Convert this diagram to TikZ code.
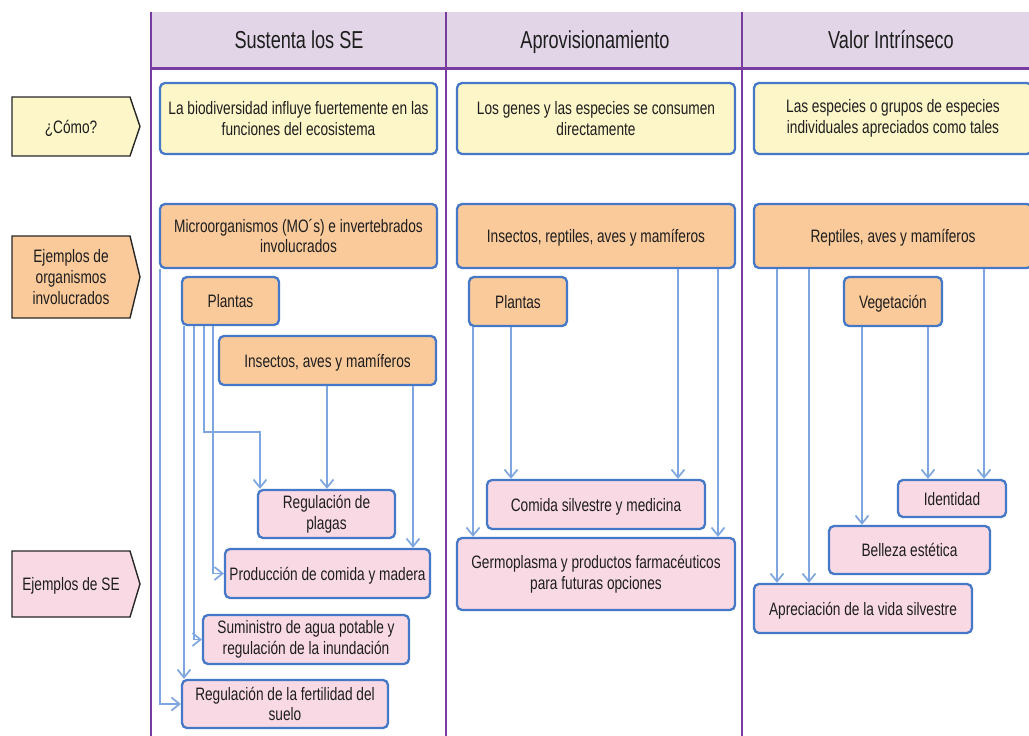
\documentclass[tikz,border=0pt]{standalone}
\usepackage{fontspec}
\newfontfamily\nar{Liberation Sans}[FakeStretch=0.76]
\newfontfamily\hnar{Liberation Sans}[FakeStretch=0.74]
\usetikzlibrary{arrows.meta}
\definecolor{purp}{RGB}{120,60,160}
\definecolor{hdrfill}{RGB}{225,213,231}
\definecolor{cyel}{RGB}{252,246,200}
\definecolor{corg}{RGB}{250,202,155}
\definecolor{cpnk}{RGB}{249,218,228}
\definecolor{bbord}{RGB}{70,120,200}
\definecolor{carr}{RGB}{126,166,224}
\definecolor{lblline}{RGB}{40,40,40}
\definecolor{txt}{RGB}{30,30,30}
\begin{document}
\begin{tikzpicture}[x=1pt,y=-1pt,
  box/.style={draw=bbord, line width=2.3pt, rounded corners=5pt, align=center, inner sep=0pt,
    text=txt, font=\nar\fontsize{18}{20.7}\selectfont},
  one/.style={text height=13pt, text depth=0pt},
  yel/.style={box, fill=cyel},
  org/.style={box, fill=corg},
  pnk/.style={box, fill=cpnk},
  hdr/.style={text=txt, anchor=base, inner sep=0pt, font=\hnar\fontsize{24.5}{28}\selectfont},
  lblshape/.style={draw=lblline, line width=1.4pt},
  lbltext/.style={align=center, text=txt, inner sep=0pt, font=\nar\fontsize{18}{20.7}\selectfont},
  arr/.style={draw=carr, line width=1.7pt, -{Straight Barb[length=8pt,width=13pt]}},
  divider/.style={draw=purp, line width=2.5pt}
]
\useasboundingbox (0,0) rectangle (1029,736);
\clip (0,0) rectangle (1029,736);
\fill[white] (0,0) rectangle (1029,736);

% header
\fill[hdrfill] (151,12) rectangle (1045,68);
\draw[divider] (151,12) -- (151,740);
\draw[divider] (446,12) -- (446,740);
\draw[divider] (742,12) -- (742,740);
\draw[draw=purp, line width=3pt] (151,68) -- (1045,68);
\node[hdr] (h1) at (299,48) {Sustenta los SE};
\node[hdr] (h2) at (595,48) {Aprovisionamiento};
\node[hdr] (h3) at (891,48) {Valor Intrínseco};

% left labels
\draw[lblshape, fill=cyel] (12,97) -- (130,97) -- (140,126.5) -- (130,156) -- (12,156) -- cycle;
\node[lbltext, one] (como) at (71,126.5) {¿Cómo?};
\draw[lblshape, fill=corg] (12,236) -- (130,236) -- (140,277) -- (130,318) -- (12,318) -- cycle;
\node[lbltext] (ejorg) at (71,277) {Ejemplos de\\organismos\\involucrados};
\draw[lblshape, fill=cpnk] (12,551) -- (130,551) -- (140,584) -- (130,617) -- (12,617) -- cycle;
\node[lbltext, one] (ejse) at (71,584) {Ejemplos de SE};

% column 1
\node[yel, minimum width=277pt, minimum height=71pt] (c1a) at (298.5,118.5) {La biodiversidad influye fuertemente en las\\funciones del ecosistema};
\node[org, minimum width=277pt, minimum height=64pt] (c1b) at (298.5,236) {Microorganismos (MO´s) e invertebrados\\involucrados};
\node[org, one, minimum width=97pt, minimum height=48pt] (p1) at (230.5,301) {Plantas};
\node[org, one, minimum width=217pt, minimum height=49pt] (i1) at (327.5,360.5) {Insectos, aves y mamíferos};
\node[pnk, minimum width=137pt, minimum height=48pt] (rp) at (326.5,514) {Regulación de\\plagas};
\node[pnk, one, minimum width=205pt, minimum height=49pt] (pc) at (327.5,573.5) {Producción de comida y madera};
\node[pnk, minimum width=206pt, minimum height=49pt] (sa) at (306,639.5) {Suministro de agua potable y\\regulación de la inundación};
\node[pnk, minimum width=206pt, minimum height=48pt] (rf) at (285,704) {Regulación de la fertilidad del\\suelo};

\draw[arr] (160,0 |- c1b.south) |- (rf.west);
\draw[arr] (184,0 |- p1.south) -- (184,0 |- rf.north);
\draw[arr] (194,0 |- p1.south) |- (sa.west);
\draw[arr] (204,0 |- p1.south) -- (204,432) -- (260,432) -- (260,0 |- rp.north);
\draw[arr] (213,0 |- p1.south) |- (pc.west);
\draw[arr] (327,0 |- i1.south) -- (327,0 |- rp.north);
\draw[arr] (413,0 |- i1.south) -- (413,0 |- pc.north);

% column 2
\node[yel, minimum width=278pt, minimum height=71pt] (c2a) at (596,118.5) {Los genes y las especies se consumen\\directamente};
\node[org, one, minimum width=278pt, minimum height=64pt] (c2b) at (596,236) {Insectos, reptiles, aves y mamíferos};
\node[org, one, minimum width=98pt, minimum height=49pt] (p2) at (518,301.5) {Plantas};
\node[pnk, one, minimum width=218pt, minimum height=49pt] (cs) at (596,504.5) {Comida silvestre y medicina};
\node[pnk, minimum width=278pt, minimum height=72pt] (gp) at (596,574) {Germoplasma y productos farmacéuticos\\para futuras opciones};

\draw[arr] (473,0 |- p2.south) -- (473,0 |- gp.north);
\draw[arr] (511,0 |- p2.south) -- (511,0 |- cs.north);
\draw[arr] (678,0 |- c2b.south) -- (678,0 |- cs.north);
\draw[arr] (718,0 |- c2b.south) -- (718,0 |- gp.north);

% column 3
\node[yel, minimum width=278pt, minimum height=71pt] (c3a) at (893,118.5) {Las especies o grupos de especies\\individuales apreciados como tales};
\node[org, one, minimum width=278pt, minimum height=64pt] (c3b) at (893,236) {Reptiles, aves y mamíferos};
\node[org, one, minimum width=98pt, minimum height=49pt] (veg) at (893,301.5) {Vegetación};
\node[pnk, one, minimum width=108pt, minimum height=37pt] (id) at (952,498.5) {Identidad};
\node[pnk, one, minimum width=161pt, minimum height=48pt] (be) at (909.5,550) {Belleza estética};
\node[pnk, one, minimum width=218pt, minimum height=49pt] (ap) at (863,608.5) {Apreciación de la vida silvestre};

\draw[arr] (777,0 |- c3b.south) -- (777,0 |- ap.north);
\draw[arr] (809,0 |- c3b.south) -- (809,0 |- ap.north);
\draw[arr] (862,0 |- veg.south) -- (862,0 |- be.north);
\draw[arr] (928,0 |- veg.south) -- (928,0 |- id.north);
\draw[arr] (984,0 |- c3b.south) -- (984,0 |- id.north);
\end{tikzpicture}
\end{document}
